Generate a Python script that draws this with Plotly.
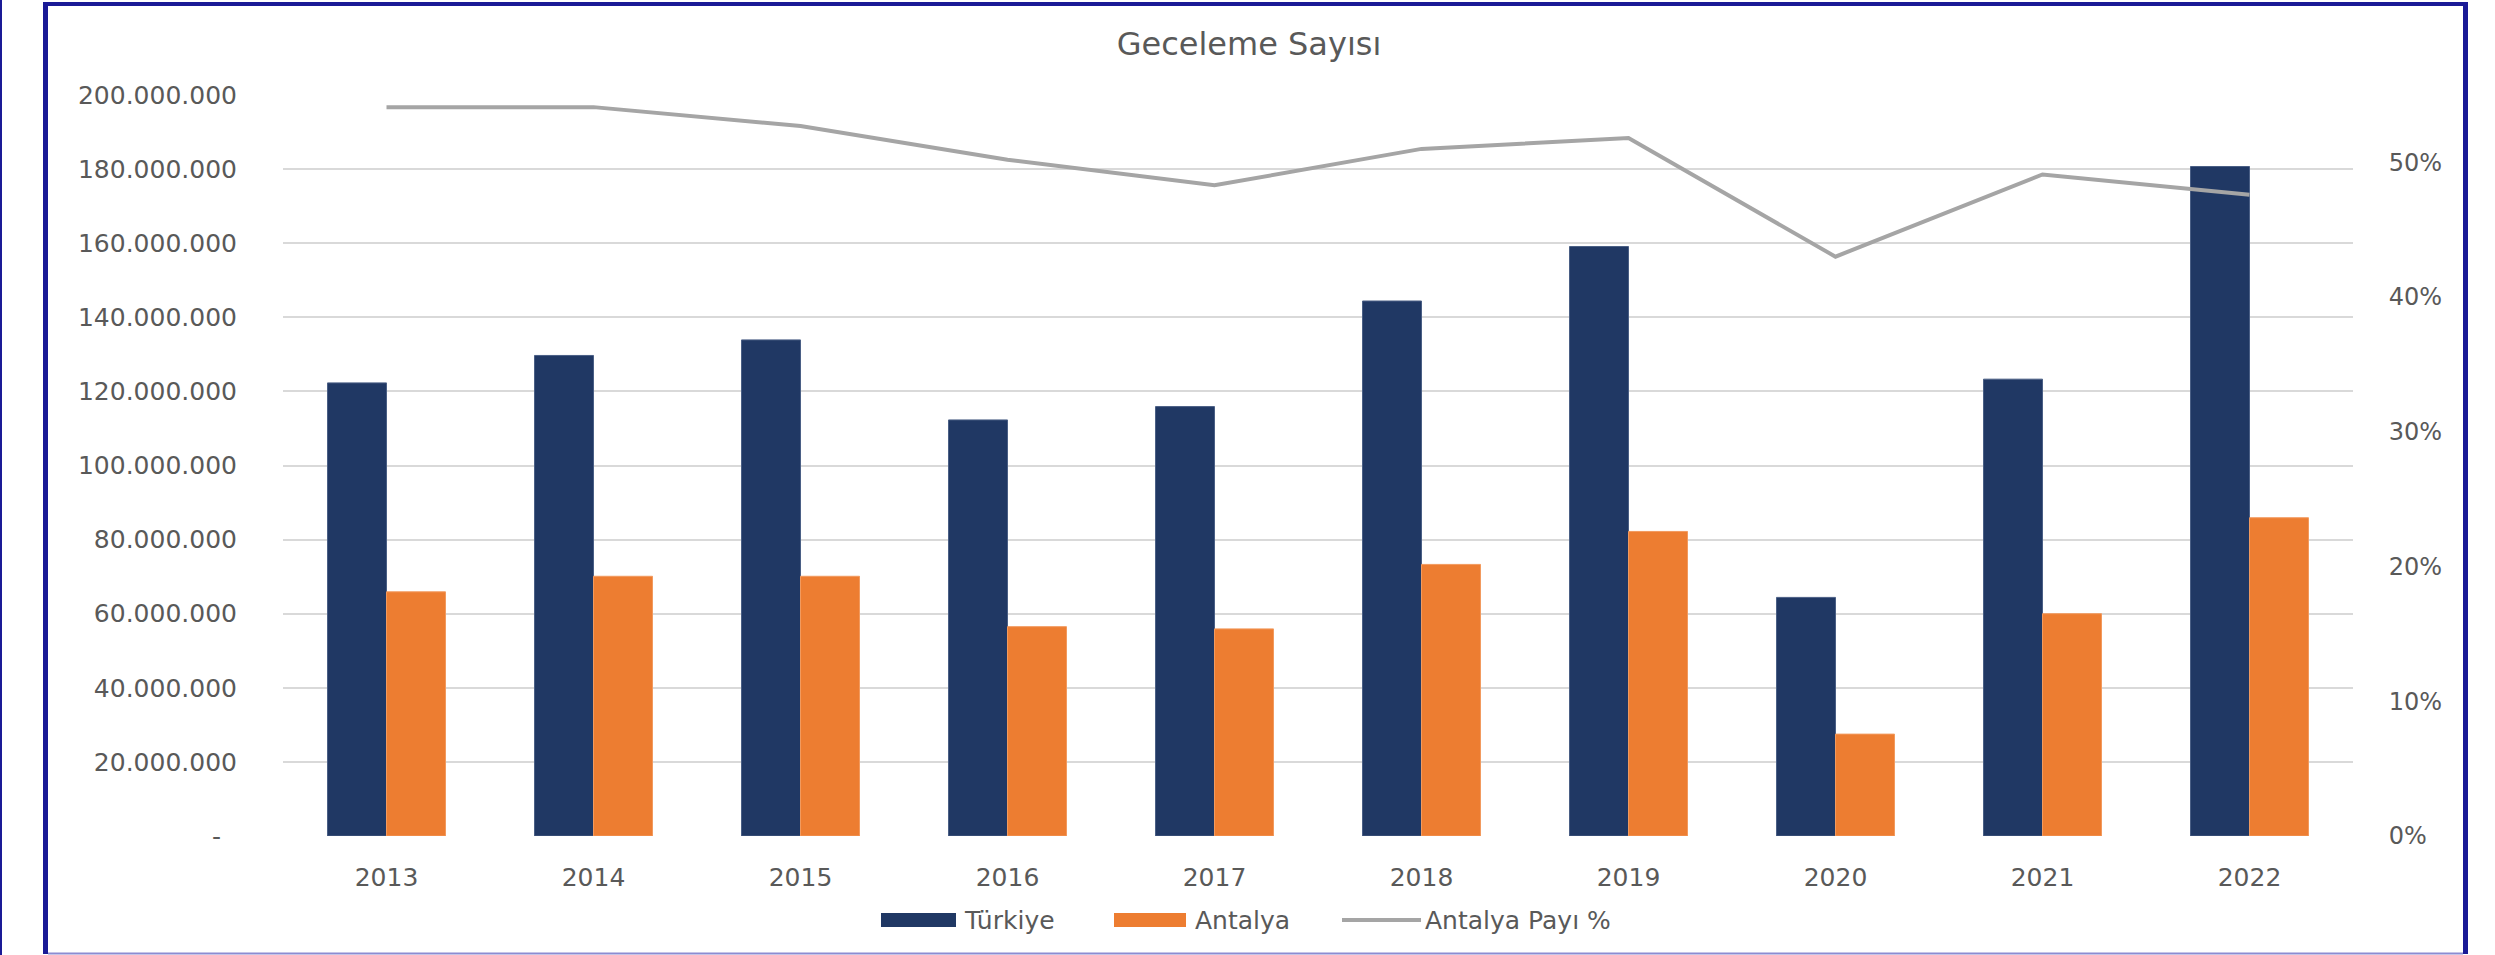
import plotly.graph_objects as go

years = ["2013", "2014", "2015", "2016", "2017", "2018", "2019", "2020", "2021", "2022"]
turkiye = [122.3e6, 129.7e6, 133.9e6, 112.3e6, 115.9e6, 144.4e6, 159.1e6, 64.4e6, 123.3e6, 180.7e6]
antalya = [65.9e6, 70.1e6, 70.1e6, 56.5e6, 55.9e6, 73.3e6, 82.2e6, 27.5e6, 60.0e6, 85.9e6]
antalya_payi = [0.541, 0.541, 0.527, 0.502, 0.483, 0.510, 0.518, 0.430, 0.491, 0.476]

series_names = ["Türkiye", "Antalya", "Antalya Payı %"]

left_tick_vals = [0, 20e6, 40e6, 60e6, 80e6, 100e6, 120e6, 140e6, 160e6, 180e6, 200e6]
left_tick_text = ["-\u00a0\u00a0", "20.000.000", "40.000.000", "60.000.000", "80.000.000",
                  "100.000.000", "120.000.000", "140.000.000", "160.000.000", "180.000.000",
                  "200.000.000"]
right_tick_vals = [0, 0.1, 0.2, 0.3, 0.4, 0.5]
right_tick_text = ["0%", "10%", "20%", "30%", "40%", "50%"]

W, H = 2495, 955
L, R, T, B = 283, 2353, 95, 836

def px_x(p):
    return (p - L) / (R - L)

def px_y(p):
    return (B - p) / (B - T)

FONT = "DejaVu Sans"
GRAY = "#595959"
NAVY = "#1a1a96"
C_TR = "#203864"
C_AN = "#ED7D31"
C_LN = "#A5A5A5"

fig = go.Figure()
fig.add_trace(go.Bar(x=years, y=turkiye, name=series_names[0], showlegend=False,
                     marker=dict(color=C_TR, line=dict(color="#4a5f85", width=1))))
fig.add_trace(go.Bar(x=years, y=antalya, name=series_names[1], showlegend=False,
                     marker=dict(color=C_AN, line=dict(color="#f29a5e", width=1))))
fig.add_trace(go.Scatter(x=years, y=antalya_payi, name=series_names[2], yaxis="y2", mode="lines",
                         showlegend=False, line=dict(color=C_LN, width=4)))

shapes = [
    dict(type="line", xref="paper", yref="paper", x0=px_x(1), x1=px_x(1), y0=px_y(0), y1=px_y(955),
         line=dict(color=NAVY, width=2)),
    dict(type="line", xref="paper", yref="paper", x0=px_x(45.5), x1=px_x(45.5), y0=px_y(2), y1=px_y(954),
         line=dict(color=NAVY, width=5)),
    dict(type="line", xref="paper", yref="paper", x0=px_x(43), x1=px_x(2468), y0=px_y(4), y1=px_y(4),
         line=dict(color=NAVY, width=4)),
    dict(type="line", xref="paper", yref="paper", x0=px_x(2465.5), x1=px_x(2465.5), y0=px_y(2), y1=px_y(954),
         line=dict(color=NAVY, width=5)),
    dict(type="line", xref="paper", yref="paper", x0=px_x(48), x1=px_x(2463), y0=px_y(953.5), y1=px_y(953.5),
         line=dict(color="#8c8cd2", width=2)),
]

# custom legend (wide swatches like the original)
LEG_Y = 920
legend_items = [
    ("rect", C_TR, 881, 956, 962, series_names[0]),
    ("rect", C_AN, 1114, 1186, 1193, series_names[1]),
    ("line", C_LN, 1342, 1421, 1423, series_names[2]),
]
annotations = []
for kind, color, xa, xb, xt, label in legend_items:
    if kind == "rect":
        shapes.append(dict(type="rect", xref="paper", yref="paper", x0=px_x(xa), x1=px_x(xb),
                           y0=px_y(LEG_Y + 7), y1=px_y(LEG_Y - 7), fillcolor=color,
                           line=dict(color=color, width=0)))
    else:
        shapes.append(dict(type="line", xref="paper", yref="paper", x0=px_x(xa), x1=px_x(xb),
                           y0=px_y(LEG_Y), y1=px_y(LEG_Y), line=dict(color=color, width=4)))
    annotations.append(dict(text=label, xref="paper", yref="paper", x=px_x(xt), y=px_y(LEG_Y),
                            xanchor="left", yanchor="middle", showarrow=False,
                            font=dict(family=FONT, size=25, color=GRAY)))

fig.update_layout(
    width=W, height=H,
    margin=dict(l=L, r=W - R, t=T, b=H - B, autoexpand=False),
    paper_bgcolor="white", plot_bgcolor="white",
    font=dict(family=FONT, color=GRAY),
    title=dict(text="Geceleme Sayısı", x=1249 / W, xanchor="center", y=1 - 44 / H, yanchor="middle",
               font=dict(family=FONT, size=32, color=GRAY)),
    barmode="group", bargap=0.43, bargroupgap=0,
    showlegend=False,
    xaxis=dict(type="category", showgrid=False, showline=False, zeroline=False,
               ticks="outside", ticklen=19, tickcolor="rgba(0,0,0,0)",
               tickfont=dict(family=FONT, size=25, color=GRAY)),
    yaxis=dict(range=[0, 200e6], tickvals=left_tick_vals, ticktext=left_tick_text,
               showgrid=True, gridcolor="#d9d9d9", gridwidth=2, zeroline=False, showline=False,
               ticks="outside", ticklen=40, tickcolor="rgba(0,0,0,0)",
               tickfont=dict(family=FONT, size=25, color=GRAY)),
    yaxis2=dict(range=[0, 0.55], tickvals=right_tick_vals, ticktext=right_tick_text,
                overlaying="y", side="right", showgrid=False, zeroline=False, showline=False,
                ticks="outside", ticklen=30, tickcolor="rgba(0,0,0,0)",
                tickfont=dict(family=FONT, size=24, color=GRAY)),
    shapes=shapes,
    annotations=annotations,
)

fig.write_html("out.html", config={"displayModeBar": False},
               post_script="document.body.style.margin='0px';document.body.style.overflow='hidden';")
